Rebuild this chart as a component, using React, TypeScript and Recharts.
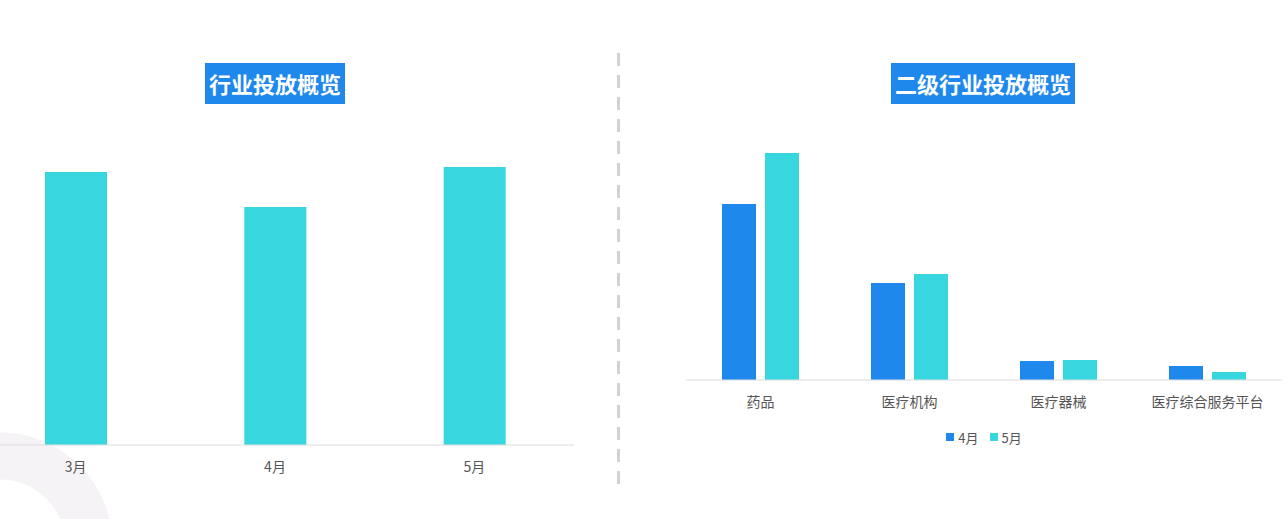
import { BarChart, Bar, XAxis, YAxis, Legend } from "recharts";

// 行业投放概览
const monthCategories = ["3月", "4月", "5月"];
const monthSpend = [273, 238, 278];

// 二级行业投放概览
const subIndustries = ["药品", "医疗机构", "医疗器械", "医疗综合服务平台"];
const aprilSpend = [176, 97, 19, 14];
const maySpend = [227, 106, 20, 8];
const seriesNames = ["4月", "5月"];

const BLUE = "#1e88ec";
const CYAN = "#38d7e0";
const FONT = '"Noto Sans CJK SC", "Microsoft YaHei", sans-serif';

const monthData = monthCategories.map((name, i) => ({ name, value: monthSpend[i] }));
const subData = subIndustries.map((name, i) => ({
  name,
  april: aprilSpend[i],
  may: maySpend[i],
}));

const tickStyle = { fill: "#555", fontSize: 14, fontFamily: FONT };

function Title({ text, center }: { text: string; center: number }) {
  return (
    <div
      style={{
        position: "absolute",
        top: 63,
        left: center,
        transform: "translateX(-50%)",
        height: 41,
        lineHeight: "41px",
        padding: "0 4px",
        background: BLUE,
        color: "#fff",
        fontFamily: FONT,
        fontWeight: 700,
        fontSize: 22,
        whiteSpace: "nowrap",
      }}
    >
      {text}
    </div>
  );
}

function LegendContent() {
  const colors = [BLUE, CYAN];
  return (
    <div
      style={{
        height: 20,
        display: "flex",
        justifyContent: "center",
        alignItems: "center",
        gap: 11,
        fontFamily: FONT,
        fontSize: 13,
        color: "#555",
      }}
    >
      {seriesNames.map((n, i) => (
        <span key={n} style={{ display: "flex", alignItems: "center", gap: 4 }}>
          <span style={{ width: 8, height: 8, background: colors[i], display: "inline-block" }} />
          {n}
        </span>
      ))}
    </div>
  );
}

export default function App() {
  return (
    <div
      style={{
        position: "absolute",
        left: 0,
        top: 0,
        width: 1288,
        height: 519,
        overflow: "hidden",
        background: "#fff",
      }}
    >
      {/* decorative ring in the lower-left corner and the dashed divider */}
      <svg width={1288} height={519} style={{ position: "absolute", left: 0, top: 0 }}>
        <circle cx={0} cy={545} r={89} fill="none" stroke="#f5f3f5" strokeWidth={47} />
        <line
          x1={618.5}
          y1={53}
          x2={618.5}
          y2={490}
          stroke="#d2d2d2"
          strokeWidth={3}
          strokeDasharray="13 9"
        />
      </svg>

      <div style={{ position: "absolute", left: -24, top: 0 }}>
        <BarChart
          width={598}
          height={500}
          data={monthData}
          margin={{ top: 120, right: 0, bottom: 25, left: 0 }}
        >
          <XAxis
            dataKey="name"
            height={30}
            axisLine={{ stroke: "#dcdcdc" }}
            tickLine={false}
            tick={tickStyle}
            tickMargin={11}
          />
          <YAxis hide domain={[0, 325]} />
          <Bar dataKey="value" fill={CYAN} barSize={62} isAnimationActive={false} />
        </BarChart>
      </div>

      <div style={{ position: "absolute", left: 686, top: 0 }}>
        <BarChart
          width={596}
          height={457}
          data={subData}
          barGap={9}
          margin={{ top: 130, right: 0, bottom: 10, left: 0 }}
        >
          <XAxis
            dataKey="name"
            height={47}
            axisLine={{ stroke: "#dcdcdc" }}
            tickLine={false}
            tick={tickStyle}
            tickMargin={11}
          />
          <YAxis hide domain={[0, 250]} />
          <Legend verticalAlign="bottom" content={<LegendContent />} />
          <Bar dataKey="april" name={seriesNames[0]} fill={BLUE} barSize={34} isAnimationActive={false} />
          <Bar dataKey="may" name={seriesNames[1]} fill={CYAN} barSize={34} isAnimationActive={false} />
        </BarChart>
      </div>

      <Title text="行业投放概览" center={275} />
      <Title text="二级行业投放概览" center={983} />
    </div>
  );
}
